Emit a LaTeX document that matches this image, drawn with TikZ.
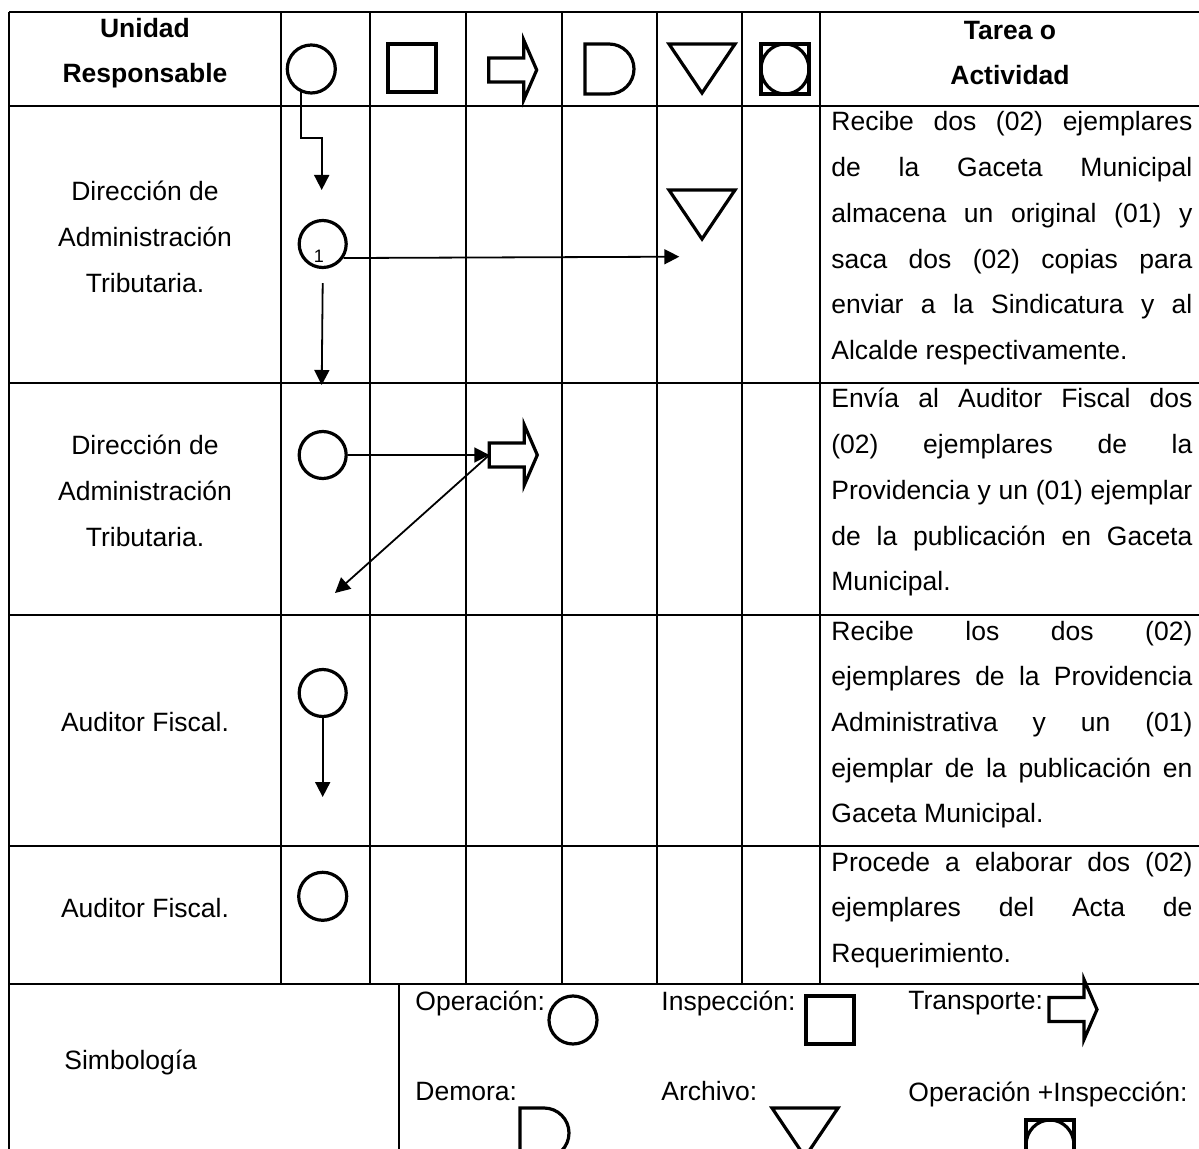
\documentclass[tikz,border=0pt]{standalone}
\usepackage{fontspec}
\setmainfont{Liberation Sans}
\usetikzlibrary{arrows.meta}
\tolerance=10000
\hyphenpenalty=10000

\begin{document}
\begin{tikzpicture}[x=0.5pt,y=-0.5pt,
    tabla/.style={line width=1.1pt},
    simbolo/.style={line width=1.6pt},
    flecha/.style={line width=0.9pt,-{Triangle[length=7.5pt,width=7.5pt]}},
    opcirc/.style={draw,circle,line width=1.6pt,minimum size=23.5pt,inner sep=0pt},
    texto/.style={font=\fontsize{13.25pt}{22.85pt}\selectfont},
    titulo/.style={font=\fontsize{13.25pt}{22.3pt}\selectfont\bfseries,align=center,inner sep=0pt},
    unidad/.style={texto,align=center,inner sep=0pt},
    tarea/.style={texto,anchor=base west,text width=180.5pt,align=justify,inner sep=0pt},
    leyenda/.style={texto,anchor=base west,inner sep=0pt},
    pics/transporte/.style={code={\draw[simbolo] (0,-12) -- (35,-12) -- (35,-30) -- (48,0) -- (35,30) -- (35,12) -- (0,12) -- cycle;}},
    pics/demora/.style={code={\draw[simbolo] (0,0) -- (24,0) .. controls (37.8,0) and (49,11.2) .. (49,25) .. controls (49,38.8) and (37.8,50) .. (24,50) -- (0,50) -- cycle;}},
    pics/archivo/.style={code={\draw[simbolo] (0,0) -- (66,0) -- (33,49) -- cycle;}},
    pics/inspeccion/.style={code={\draw[simbolo] (0,0) rectangle (48,48);}},
    pics/opinsp/.style={code={\draw[simbolo] (0,0) rectangle (48,50); \draw[simbolo] (24,25) ellipse [x radius=24, y radius=25];}},
]
    \path[use as bounding box,clip] (0,0) rectangle (1199,1149);

    % table
    \foreach \y in {12,106,383,615,846,984}
        \draw[tabla] (9,\y) -- (1199,\y);
    \draw[tabla] (9,12) -- (9,1149);
    \foreach \x in {281,370,466,562,657,742,820}
        \draw[tabla] (\x,12) -- (\x,984);
    \draw[tabla] (399,984) -- (399,1149);

    % header
    \node[titulo] (uni) at (145,53) {Unidad\\Responsable};
    \node[titulo] (tar) at (1010,53) {Tarea o\\Actividad};
    \node[opcirc,minimum size=24pt] (hc) at (311.3,69) {};
    \pic at (388,44) {inspeccion};
    \pic at (488.7,70) {transporte};
    \pic at (585,44) {demora};
    \pic at (669,44) {archivo};
    \pic at (761,44) {opinsp};

    % row 1
    \node[unidad] (u1) at (145,237) {Direcci\'on de\\Administraci\'on\\Tributaria.};
    \node[opcirc] (o1) at (322.7,244) {};
    \node[font=\fontsize{9pt}{9pt}\selectfont,anchor=base,inner sep=0pt] (n1) at (319,263) {1};
    \pic at (669,190) {archivo};
    \coordinate (k1) at (321.7,138);
    \coordinate (f1) at (321.7,190);
    \coordinate (f2) at (679.3,256.7);
    \coordinate (f3) at (321.7,385);
    \draw[flecha] (hc.246) |- (k1) -- (f1);
    \draw[flecha] (o1.-34) -- (f2);
    \draw[flecha] ([yshift=-7pt]o1.south) -- (f3);
    \node[tarea] (t1) at (831,131) {Recibe dos (02) ejemplares\linebreak de la Gaceta Municipal\linebreak almacena un original (01) y\linebreak saca dos (02) copias para\linebreak enviar a la Sindicatura y al\linebreak Alcalde respectivamente.};

    % row 2
    \node[unidad] (u2) at (145,491) {Direcci\'on de\\Administraci\'on\\Tributaria.};
    \node[opcirc] (o2) at (322.7,455) {};
    \coordinate (tr2) at (489.3,455);
    \pic at (tr2) {transporte};
    \coordinate (f4) at (335,593);
    \draw[flecha] (o2) -- (tr2);
    \draw[flecha] (tr2) -- (f4);
    \node[tarea] (t2) at (831,408) {Env\'ia al Auditor Fiscal dos\linebreak (02) ejemplares de la\linebreak Providencia y un (01) ejemplar\linebreak de la publicaci\'on en Gaceta\linebreak Municipal.};

    % row 3
    \node[unidad] (u3) at (145,722) {Auditor Fiscal.};
    \node[opcirc] (o3) at (322.7,693) {};
    \coordinate (f5) at (322.7,797);
    \draw[flecha] (o3) -- (f5);
    \node[tarea] (t3) at (831,640) {Recibe los dos (02)\linebreak ejemplares de la Providencia\linebreak Administrativa y un (01)\linebreak ejemplar de la publicaci\'on en\linebreak Gaceta Municipal.};

    % row 4
    \node[unidad] (u4) at (145,908) {Auditor Fiscal.};
    \node[opcirc,minimum size=24pt] (o4) at (322.7,896.3) {};
    \node[tarea] (t4) at (831,871) {Procede a elaborar dos (02)\linebreak ejemplares del Acta de\linebreak Requerimiento.};

    % legend
    \node[texto,anchor=west,inner sep=0pt] (sim) at (64,1062) {Simbolog\'ia};
    \node[leyenda] (l1) at (415,1010) {Operaci\'on:};
    \node[opcirc,minimum size=24pt] (lc) at (573,1020) {};
    \node[leyenda] (l2) at (661,1010) {Inspecci\'on:};
    \pic at (806,996) {inspeccion};
    \node[leyenda] (l3) at (908,1009) {Transporte:};
    \pic at (1049,1009.5) {transporte};
    \node[leyenda] (l4) at (415,1100) {Demora:};
    \pic at (520,1108) {demora};
    \node[leyenda] (l5) at (661,1100) {Archivo:};
    \pic at (772,1108) {archivo};
    \node[leyenda] (l6) at (908,1101) {Operaci\'on +Inspecci\'on:};
    \pic at (1026,1120) {opinsp};
\end{tikzpicture}
\end{document}
